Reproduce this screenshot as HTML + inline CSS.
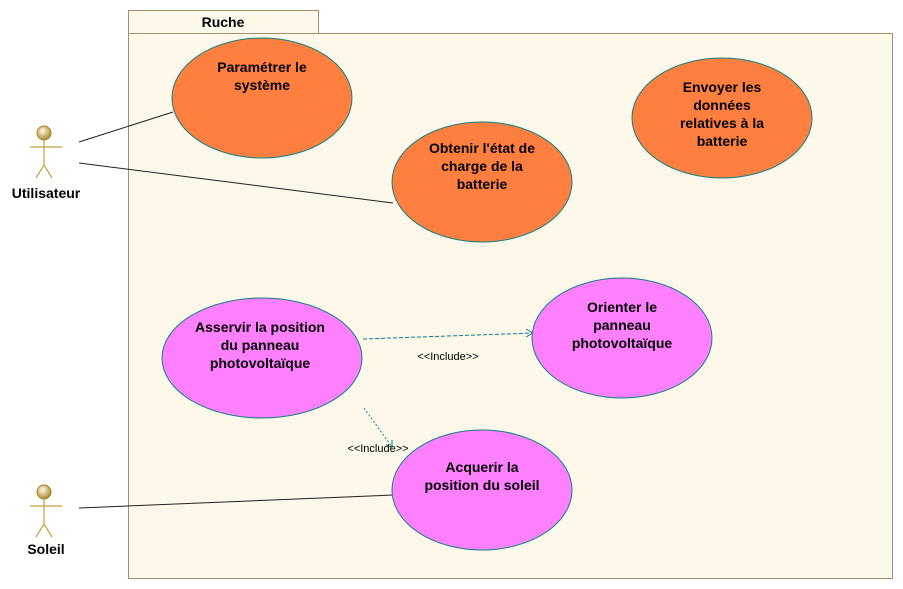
<!DOCTYPE html>
<html><head><meta charset="utf-8"><style>body{margin:0;background:#fff}svg{display:block}</style></head><body>
<svg width="903" height="589" xmlns="http://www.w3.org/2000/svg" font-family="Liberation Sans, sans-serif">
<defs><radialGradient id="h" cx="40%" cy="35%" r="65%"><stop offset="0" stop-color="#fff8e0"/><stop offset="1" stop-color="#b08a30"/></radialGradient></defs>
<rect x="128.5" y="10.5" width="190" height="23" fill="#fdf8e9" stroke="#a09070"/>
<rect x="128.5" y="33.5" width="764" height="545" fill="#fdf8e9" stroke="#a09070"/>
<text x="223" y="27" font-size="14" font-weight="bold" text-anchor="middle">Ruche</text>
<g stroke="#222" stroke-width="1" fill="none">
<line x1="79" y1="142" x2="173" y2="112"/>
<line x1="79" y1="163" x2="393" y2="203"/>
<line x1="79" y1="508" x2="393" y2="495"/>
</g>
<g stroke="#0a8080" stroke-width="1" fill="none">
<line x1="363" y1="339" x2="533" y2="333" stroke-dasharray="4,2"/>
<polyline points="526,329 533,333 526,337"/>
<line x1="364" y1="408" x2="392" y2="447" stroke-dasharray="2,2"/>
<polyline points="386,445 392,447 392,440"/>
</g>
<g font-size="11" text-anchor="middle" fill="#000">
<text x="448" y="360">&lt;&lt;Include&gt;&gt;</text>
<text x="378" y="452">&lt;&lt;Include&gt;&gt;</text>
</g>
<g stroke="#108080" stroke-width="1">
<ellipse cx="262" cy="98" rx="90" ry="60" fill="#ff7f40"/>
<ellipse cx="482" cy="182" rx="90" ry="60" fill="#ff7f40"/>
<ellipse cx="722" cy="118" rx="90" ry="60" fill="#ff7f40"/>
<ellipse cx="262" cy="358" rx="100" ry="60" fill="#ff80ff"/>
<ellipse cx="622" cy="338" rx="90" ry="60" fill="#ff80ff"/>
<ellipse cx="482" cy="490" rx="90" ry="60" fill="#ff80ff"/>
</g>
<g font-size="14" font-weight="bold" text-anchor="middle" fill="#000">
<text x="262" y="72">Paramétrer le</text><text x="262" y="90">système</text>
<text x="482" y="153">Obtenir l'état de</text><text x="482" y="171">charge de la</text><text x="482" y="189">batterie</text>
<text x="722" y="92">Envoyer les</text><text x="722" y="110">données</text><text x="722" y="128">relatives à la</text><text x="722" y="146">batterie</text>
<text x="260" y="332">Asservir la position</text><text x="260" y="350">du panneau</text><text x="260" y="368">photovoltaïque</text>
<text x="622" y="312">Orienter le</text><text x="622" y="330">panneau</text><text x="622" y="348">photovoltaïque</text>
<text x="482" y="472">Acquerir la</text><text x="482" y="490">position du soleil</text>
</g>
<g stroke="#c8a040" stroke-width="1.2" fill="none">
<line x1="44" y1="140" x2="44" y2="165"/><line x1="30" y1="147" x2="62" y2="147"/>
<polyline points="36,178 44,165 52,178"/>
<line x1="44" y1="499" x2="44" y2="524"/><line x1="30" y1="506" x2="62" y2="506"/>
<polyline points="36,537 44,524 52,537"/>
</g>
<circle cx="44" cy="133" r="7" fill="url(#h)" stroke="#a08030"/>
<circle cx="44" cy="492" r="7" fill="url(#h)" stroke="#a08030"/>
<g font-size="14" font-weight="bold" text-anchor="middle">
<text x="46" y="198">Utilisateur</text>
<text x="46" y="554">Soleil</text>
</g>
</svg>
</body></html>
